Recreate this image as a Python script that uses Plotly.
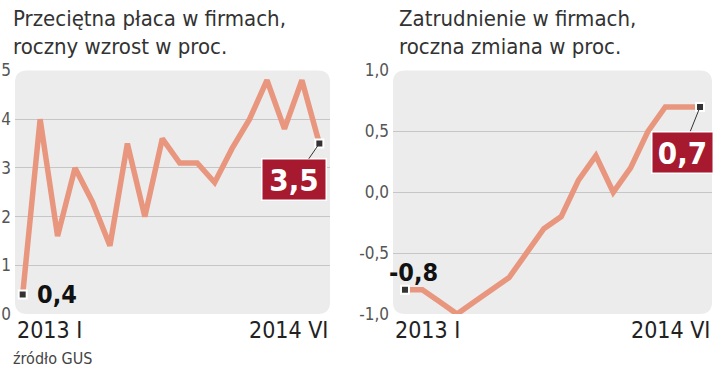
import plotly.graph_objects as go

months = ["2013 I", "2013 II", "2013 III", "2013 IV", "2013 V", "2013 VI",
          "2013 VII", "2013 VIII", "2013 IX", "2013 X", "2013 XI", "2013 XII",
          "2014 I", "2014 II", "2014 III", "2014 IV", "2014 V", "2014 VI"]
wages = [0.4, 4.0, 1.6, 3.0, 2.3, 1.4, 3.5, 2.0, 3.6, 3.1, 3.1, 2.7, 3.4, 4.0, 4.8, 3.8, 4.8, 3.5]
employment = [-0.8, -0.8, -0.9, -1.0, -0.9, -0.8, -0.7, -0.5, -0.3, -0.2, 0.1, 0.3, 0.0, 0.2, 0.5, 0.7, 0.7, 0.7]
wage_ticks = [0, 1, 2, 3, 4, 5]
emp_ticks = [-1.0, -0.5, 0.0, 0.5, 1.0]
titles_left = ["Przeciętna płaca w firmach,", "roczny wzrost w proc."]
titles_right = ["Zatrudnienie w firmach,", "roczna zmiana w proc."]
source = "źródło GUS"


def fmt(v, dec):
    return f"{v:.{dec}f}".replace(".", ",")


W, H = 720, 369
COND = "DejaVu Sans Condensed, Liberation Sans Narrow, sans-serif"
LINE = "#e9967f"
RED = "#a6192e"
BG = "#ececec"
GRID = "#c6c6c6"

dom_y = [0.149, 0.809]
dom_x1 = [15 / W, 330 / W]
dom_x2 = [393 / W, 712 / W]

fig = go.Figure()
fig.add_trace(go.Scatter(x=months, y=wages, mode="lines", line=dict(color=LINE, width=5.5),
                         xaxis="x", yaxis="y", cliponaxis=False, hoverinfo="skip"))
fig.add_trace(go.Scatter(x=months, y=employment, mode="lines", line=dict(color=LINE, width=5.5),
                         xaxis="x2", yaxis="y2", cliponaxis=False, hoverinfo="skip"))
fig.add_trace(go.Scatter(x=[months[0], months[-1]], y=[wages[0], wages[-1]], mode="markers",
                         marker=dict(symbol="square", size=8, color="#333333",
                                     line=dict(color="white", width=2)),
                         xaxis="x", yaxis="y", cliponaxis=False))
fig.add_trace(go.Scatter(x=[months[0], months[-1]], y=[employment[0], employment[-1]], mode="markers",
                         marker=dict(symbol="square", size=8, color="#333333",
                                     line=dict(color="white", width=2)),
                         xaxis="x2", yaxis="y2", cliponaxis=False))


def rounded(x0, x1, y0, y1, r=12):
    rx, ry = r / W, r / H
    return (f"M {x0+rx},{y0} L {x1-rx},{y0} Q {x1},{y0} {x1},{y0+ry} "
            f"L {x1},{y1-ry} Q {x1},{y1} {x1-rx},{y1} L {x0+rx},{y1} "
            f"Q {x0},{y1} {x0},{y1-ry} L {x0},{y0+ry} Q {x0},{y0} {x0+rx},{y0} Z")


shapes = [
    dict(type="path", xref="paper", yref="paper", layer="below",
         path=rounded(dom_x1[0], dom_x1[1], dom_y[0], dom_y[1]),
         fillcolor=BG, line=dict(width=0)),
    dict(type="path", xref="paper", yref="paper", layer="below",
         path=rounded(dom_x2[0], dom_x2[1], dom_y[0], dom_y[1]),
         fillcolor=BG, line=dict(width=0)),
]

tickfont = dict(family=COND, size=17, color="#555555")
xaxis_common = dict(type="category", showgrid=False, zeroline=False, showticklabels=False,
                    showline=False, ticks="", fixedrange=True, automargin=False)

annotations = []
for i, t in enumerate(titles_left):
    annotations.append(dict(xref="paper", yref="paper", x=11 / W, y=1 - (18 + 28 * i) / H,
                            xanchor="left", yanchor="middle", text=t, showarrow=False,
                            font=dict(family=COND, size=22, color="#333333")))
for i, t in enumerate(titles_right):
    annotations.append(dict(xref="paper", yref="paper", x=397 / W, y=1 - (18 + 28 * i) / H,
                            xanchor="left", yanchor="middle", text=t, showarrow=False,
                            font=dict(family=COND, size=22, color="#333333")))

xlabfont = dict(family=COND, size=23, color="#222222")
for xa, ya in (("x", "y"), ("x2", "y2")):
    annotations.append(dict(xref=f"{xa} domain", yref=f"{ya} domain", x=0, y=0,
                            xanchor="left", yanchor="top", yshift=-1, text=months[0],
                            showarrow=False, font=xlabfont))
    annotations.append(dict(xref=f"{xa} domain", yref=f"{ya} domain", x=1, y=0,
                            xanchor="right", yanchor="top", yshift=-1, text=months[-1],
                            showarrow=False, font=xlabfont))

boldfont = dict(family=COND, size=25, color="#111111", weight="bold")
annotations.append(dict(xref="x", yref="y", x=months[0], y=wages[0], xanchor="left",
                        yanchor="middle", xshift=12, yshift=0, text=fmt(wages[0], 1),
                        showarrow=False, font=boldfont))
annotations.append(dict(xref="x2", yref="y2", x=months[0], y=employment[0], xanchor="center",
                        yanchor="middle", xshift=9, yshift=17, text=fmt(employment[0], 1),
                        showarrow=False, font=boldfont))

boxfont = dict(family=COND, size=31, color="white", weight="bold")
annotations.append(dict(xref="x", yref="y", x=months[-1], y=wages[-1], ax=-25, ay=36,
                        text=fmt(wages[-1], 1), showarrow=True, arrowhead=0, arrowwidth=1,
                        arrowcolor="#333333", bgcolor=RED, bordercolor="white", borderwidth=1.5,
                        borderpad=1, width=61, height=38, font=boxfont))
annotations.append(dict(xref="x2", yref="y2", x=months[-1], y=employment[-1], ax=-18, ay=45,
                        text=fmt(employment[-1], 1), showarrow=True, arrowhead=0, arrowwidth=1,
                        arrowcolor="#333333", bgcolor=RED, bordercolor="white", borderwidth=1.5,
                        borderpad=1, width=58, height=38, font=boxfont))

annotations.append(dict(xref="paper", yref="paper", x=11 / W, y=1 - 358 / H, xanchor="left",
                        yanchor="middle", text=source, showarrow=False,
                        font=dict(family=COND, size=16, color="#444444")))

fig.update_layout(
    template="none",
    width=W, height=H, margin=dict(l=0, r=0, t=0, b=0, autoexpand=False),
    paper_bgcolor="white", plot_bgcolor="rgba(0,0,0,0)", showlegend=False,
    font=dict(family=COND),
    xaxis=dict(domain=dom_x1, anchor="y", range=[-0.44, 17.61], **xaxis_common),
    yaxis=dict(domain=dom_y, anchor="x", range=[0, 5], tickvals=wage_ticks,
               ticktext=[fmt(v, 0) for v in wage_ticks], showgrid=False, zeroline=False,
               showline=False, ticks="", ticklabelstandoff=3, tickfont=tickfont,
               fixedrange=True, automargin=False,
               minor=dict(tickvals=wage_ticks[1:-1], showgrid=True, gridcolor=GRID,
                          gridwidth=1, ticks="")),
    xaxis2=dict(domain=dom_x2, anchor="y2", range=[-0.69, 17.69], **xaxis_common),
    yaxis2=dict(domain=dom_y, anchor="x2", range=[-1, 1], tickvals=emp_ticks,
                ticktext=[fmt(v, 1) for v in emp_ticks], showgrid=False, zeroline=False,
                showline=False, ticks="", ticklabelstandoff=3, tickfont=tickfont,
                fixedrange=True, automargin=False,
                minor=dict(tickvals=emp_ticks[1:-1], showgrid=True, gridcolor=GRID,
                           gridwidth=1, ticks="")),
    shapes=shapes, annotations=annotations,
)

fig.write_html("out.html", config={"displayModeBar": False},
               post_script="document.body.style.margin='0px';document.body.style.overflow='hidden';")
